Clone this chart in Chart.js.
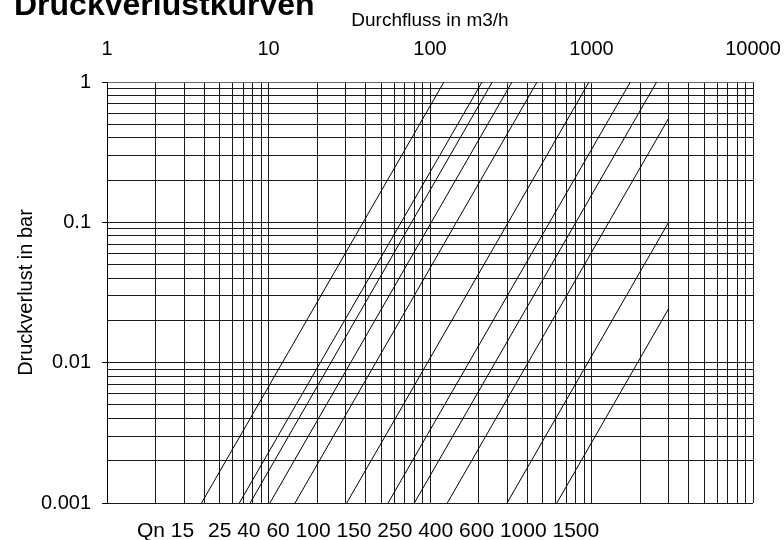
<!DOCTYPE html>
<html>
<head>
<meta charset="utf-8">
<script src="https://cdn.jsdelivr.net/npm/chart.js@4/dist/chart.umd.min.js"></script>
<style>
  html, body { margin: 0; padding: 0; background: #fff; }
  #c { display: block; }
</style>
</head>
<body>
<canvas id="c" width="784" height="540"></canvas>
<script>
// ---- data ----
const qnLabels = ['15', '25', '40', '60', '100', '150', '250', '400', '600', '1000', '1500'];
// flow (m3/h) where each curve leaves the 0.001 bar bottom edge
const startFlow = [3.85, 6.6, 7.7, 10.2, 14.6, 30.5, 55, 80, 128, 300, 610];
const startLoss = [0.001, 0.001, 0.001, 0.001, 0.001, 0.001, 0.001, 0.001, 0.001, 0.001, 0.001];
// flow and pressure loss where each curve ends
const endFlow = [122, 210, 243, 322, 460, 965, 1740, 2530, 3000, 3000, 3000];
const endLoss = [1, 1, 1, 1, 1, 1, 1, 1, 0.55, 0.1, 0.0242];

// tick values (gridlines) and the labelled decades
const xDecades = [1, 10, 100, 1000, 10000];
const yDecades = [0.001, 0.01, 0.1, 1];
const multiples = [1, 2, 3, 4, 5, 6, 7, 8, 9];

const titleText = 'Druckverlustkurven';
const xTitle = 'Durchfluss in m3/h';
const yTitle = 'Druckverlust in bar';

// ---- build ----
function buildTicks(decades) {
  const out = [];
  for (let i = 0; i < decades.length - 1; i++) {
    multiples.forEach(m => out.push(+(decades[i] * m).toPrecision(6)));
  }
  out.push(decades[decades.length - 1]);
  return out;
}
const xTicks = buildTicks(xDecades);
const yTicks = buildTicks(yDecades);
const isDecade = (v, list) => list.some(d => Math.abs(d - v) / d < 1e-6);

const datasets = qnLabels.map((lab, i) => ({
  label: 'Qn ' + lab,
  data: [{ x: startFlow[i], y: startLoss[i] }, { x: endFlow[i], y: endLoss[i] }],
  showLine: true,
  borderColor: '#000',
  borderWidth: 1,
  pointRadius: 0,
  fill: false
}));

Chart.defaults.font.family = '"Liberation Sans", Arial, sans-serif';
Chart.defaults.color = '#000';

const textPlugin = {
  id: 'extraText',
  afterDraw(chart) {
    const ctx = chart.ctx;
    ctx.save();
    ctx.fillStyle = '#000';
    ctx.textBaseline = 'alphabetic';
    ctx.textAlign = 'left';
    ctx.font = 'bold 32px "Liberation Sans", Arial, sans-serif';
    ctx.fillText(titleText, 14, 15);
    ctx.font = '21px "Liberation Sans", Arial, sans-serif';
    const first = 'Qn ' + qnLabels[0];
    ctx.fillText(first, 137, 537);
    ctx.fillText(qnLabels.slice(1).join(' '), 208, 537);
    ctx.restore();
  }
};

new Chart(document.getElementById('c'), {
  type: 'scatter',
  data: { datasets },
  plugins: [textPlugin],
  options: {
    responsive: false,
    animation: false,
    devicePixelRatio: 1,
    layout: { padding: { left: 0, right: 31, top: 0, bottom: 37 } },
    plugins: { legend: { display: false }, tooltip: { enabled: false } },
    scales: {
      x: {
        type: 'logarithmic',
        position: 'top',
        min: 1,
        max: 10000,
        afterBuildTicks: s => { s.ticks = xTicks.map(v => ({ value: v })); },
        afterFit: s => { s.height = 82; s.paddingLeft = 0; s.paddingRight = 0; },
        ticks: {
          autoSkip: false,
          maxRotation: 0,
          minRotation: 0,
          padding: 21,
          font: { size: 20 },
          callback: v => isDecade(v, xDecades) ? String(v) : ''
        },
        grid: { color: '#1a1a1a', lineWidth: 1, drawTicks: false },
        border: { color: '#666', width: 1 },
        title: { display: true, text: xTitle, font: { size: 19 }, padding: { top: 9, bottom: 0 } }
      },
      y: {
        type: 'logarithmic',
        position: 'left',
        min: 0.001,
        max: 1,
        afterBuildTicks: s => { s.ticks = yTicks.map(v => ({ value: v })); },
        afterFit: s => { s.width = 107; s.paddingTop = 0; s.paddingBottom = 0; },
        ticks: {
          autoSkip: false,
          padding: 11,
          font: { size: 20 },
          callback: v => isDecade(v, yDecades) ? String(v) : ''
        },
        grid: {
          color: '#1a1a1a',
          lineWidth: 1,
          drawTicks: true,
          tickLength: 5,
          tickColor: c => (c.tick && isDecade(c.tick.value, yDecades)) ? '#000' : 'rgba(0,0,0,0)'
        },
        border: { color: '#000', width: 1 },
        title: { display: true, text: yTitle, font: { size: 20 }, padding: { top: 14, bottom: 0 } }
      }
    }
  }
});
</script>
</body>
</html>
